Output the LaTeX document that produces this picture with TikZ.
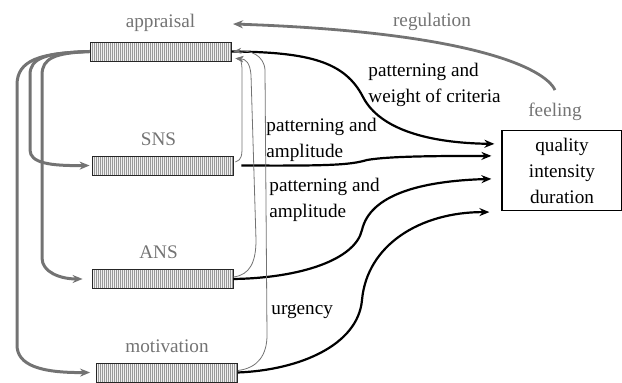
\documentclass[tikz,border=0pt]{standalone}
\usepackage{fontspec}
\setmainfont{Liberation Serif}
\newfontfamily\figfont{Liberation Serif}
\usetikzlibrary{arrows.meta,positioning}
\definecolor{Griset}{RGB}{115,115,115}

\tikzset{
  bar/.style={draw=black!85, fill=gray!12, minimum width=70.5pt, minimum height=9.5pt, inner sep=0pt,
    path picture={\foreach \i in {1,...,70}
      \draw[black!40,line width=0.25pt] ([xshift=\i pt]path picture bounding box.south west) -- ([xshift=\i pt]path picture bounding box.north west);}},
  lbl/.style={text=Griset, font=\figfont\fontsize{9.6}{13}\selectfont},
  txt/.style={font=\figfont\fontsize{9.6}{13}\selectfont, align=left, inner sep=0pt},
  blk/.style={line width=1.1pt, -{Stealth[length=5pt,width=4pt]}},
  gry/.style={Griset, line width=1.5pt, -{Stealth[length=5pt,width=4pt]}},
  thn/.style={black!55, line width=0.4pt, -{Stealth[length=4pt,width=3pt]}},
}

\begin{document}
\begin{tikzpicture}[x=0.5pt,y=-0.5pt]
\useasboundingbox (0,0) rectangle (622,383);
% the four bars
\node[bar] (appr) at (160.5,51.5) {};
\node[bar] (sns) at (162.5,165.5) {};
\node[bar] (ans) at (162.5,279) {};
\node[bar] (mot) at (167,372.5) {};
\node[lbl, above=1.5pt of appr] (apprl) {appraisal};
\node[lbl, above=1.5pt of sns, xshift=-2pt] (snsl) {SNS};
\node[lbl, above=1.5pt of ans, xshift=-2pt] (ansl) {ANS};
\node[lbl, above=1.5pt of mot] (motl) {motivation};
% feeling box
\node[draw, line width=0.6pt, txt, align=center, minimum width=60pt, minimum height=40pt] (qual) at (562,170.5) {quality\\intensity\\duration};
\node[lbl, above=1pt of qual, xshift=-3.5pt] (feel) {feeling};
\node[lbl] (reg) at (432,22) {regulation};
\coordinate (regend) at (233,24);
% labels on the arrows
\node[txt, anchor=west] (crit) at (368,85) {patterning and\\weight of criteria};
\node[txt, anchor=west] (amp1) at (266,140) {patterning and\\amplitude};
\node[txt, anchor=west] (amp2) at (269,200) {patterning and\\amplitude};
\node[txt, anchor=west] (urg) at (271,312) {urgency};
%
% regulation
\draw[gry, line width=1.4pt] ([yshift=3pt]feel.north) .. controls (545,68) and (470,32) .. (regend);
% into the feeling box
\draw[blk] (appr.east) .. controls (310,52) and (345,62) .. (363,97) .. controls (380,130) and (430,143) .. ([xshift=-3.5pt,yshift=-7pt]qual.north west);
\draw[blk] ([xshift=4pt]sns.east) .. controls (330,166) and (350,165) .. (367,160) .. controls (390,156) and (440,156) .. ([xshift=-5pt,yshift=-13pt]qual.north west);
\draw[blk] (ans.east) .. controls (300,278) and (355,260) .. (362,230) .. controls (370,195) and (420,181) .. ([xshift=-5pt,yshift=-24.5pt]qual.north west);
\draw[blk] (mot.east) .. controls (300,370) and (358,345) .. (362,300) .. controls (367,245) and (420,212) .. ([xshift=-6pt,yshift=-0.5pt]qual.south west);
%
% from appraisal down the left side
\draw[gry] (appr.west) .. controls (40,53) and (17,60) .. (17,85) -- (17,345) .. controls (17,365) and (40,373) .. ([xshift=-3pt]mot.west);
\draw[gry] (appr.west) .. controls (45,53) and (30,58) .. (30,75) -- (30,150) .. controls (30,163) and (50,166) .. ([xshift=-1pt]sns.west);
\draw[gry] (appr.west) .. controls (55,53) and (42,58) .. (42,75) -- (42,258) .. controls (42,272) and (60,279) .. ([xshift=-4.5pt]ans.west);
%
% thin lines back up to appraisal
\draw[thn] ([xshift=1pt,yshift=1.75pt]sns.east) .. controls (242,160) and (242,155) .. (242,145) -- (242,70) .. controls (242,62) and (240,59) .. ([xshift=2pt,yshift=1.5pt]appr.south east);
\draw[thn] ([yshift=1pt]ans.east) .. controls (250,275) and (256,262) .. (256,240) -- (251,75) .. controls (250,63) and (246,59) .. ([xshift=2pt,yshift=1.5pt]appr.south east);
\draw[thn] ([yshift=1pt]mot.east) .. controls (258,368) and (267,355) .. (267,335) -- (265,70) .. controls (264,55) and (250,50) .. ([xshift=1pt]appr.east);
\end{tikzpicture}
\end{document}
